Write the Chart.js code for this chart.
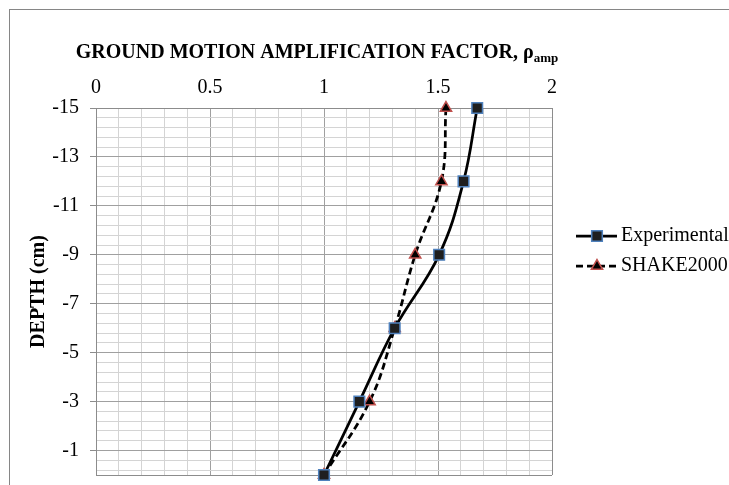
<!DOCTYPE html>
<html>
<head>
<meta charset="utf-8">
<script src="https://cdn.jsdelivr.net/npm/chart.js@4.4.1/dist/chart.umd.min.js"></script>
<style>
  body { margin: 0; background: #fff; }
  #wrap { width: 729px; height: 485px; position: relative; }
</style>
</head>
<body>
<div id="wrap"><canvas id="myChart"></canvas></div>
<script>
// depth (cm) and amplification factor
var depth = [0, -3, -6, -9, -12, -15];
var experimental = [1.0, 1.155, 1.31, 1.505, 1.612, 1.672];
var shake2000 = [1.0, 1.2, 1.31, 1.40, 1.515, 1.535];

var xTickLabels = [0, 0.5, 1, 1.5, 2];
var yTickLabels = [-15, -13, -11, -9, -7, -5, -3, -1];

var serif = "'Liberation Serif', 'Times New Roman', serif";

// minor grid every 0.1 on x, every 0.4 on y (from -15)
var xGrid = [];
for (var i = 0; i <= 20; i++) xGrid.push(i / 10);
var yGrid = [];
for (var j = 0; j <= 37; j++) yGrid.push(Math.round((-15 + j * 0.4) * 10) / 10);
yGrid.push(0);

function isMajorX(v) { return xTickLabels.some(function (t) { return Math.abs(t - v) < 1e-6; }); }
function isMajorY(v) { return yTickLabels.some(function (t) { return Math.abs(t - v) < 1e-6; }); }

function pts(xs) {
  return xs.map(function (x, k) { return { x: x, y: depth[k] }; });
}

var decor = {
  id: 'decor',
  afterDraw: function (chart) {
    var ctx = chart.ctx;
    ctx.save();
    // outer frame
    ctx.strokeStyle = '#868686';
    ctx.lineWidth = 1;
    ctx.strokeRect(9.5, 9.5, 900, 900);

    // title with subscript
    var main = 'GROUND MOTION AMPLIFICATION FACTOR, \u03c1';
    var sub = 'amp';
    ctx.fillStyle = '#000';
    ctx.textBaseline = 'alphabetic';
    ctx.font = 'bold 20px ' + serif;
    var w1 = ctx.measureText(main).width;
    ctx.font = 'bold 13px ' + serif;
    var w2 = ctx.measureText(sub).width;
    var x0 = 317 - (w1 + w2) / 2;
    ctx.font = 'bold 20px ' + serif;
    ctx.fillText(main, x0, 58);
    ctx.font = 'bold 13px ' + serif;
    ctx.fillText(sub, x0 + w1, 62);

    // legend
    var items = [
      { label: 'Experimental', ds: chart.data.datasets[0], y: 236 },
      { label: 'SHAKE2000', ds: chart.data.datasets[1], y: 266 }
    ];
    items.forEach(function (it) {
      ctx.strokeStyle = it.ds.borderColor;
      ctx.lineWidth = it.ds.borderWidth;
      ctx.setLineDash(it.ds.borderDash || []);
      ctx.beginPath();
      ctx.moveTo(576, it.y);
      ctx.lineTo(617, it.y);
      ctx.stroke();
      ctx.setLineDash([]);
      ctx.fillStyle = it.ds.pointBackgroundColor;
      ctx.strokeStyle = it.ds.pointBorderColor;
      ctx.lineWidth = it.ds.pointBorderWidth;
      Chart.helpers.drawPoint(ctx, {
        pointStyle: it.ds.pointStyle,
        radius: it.ds.pointRadius,
        borderWidth: it.ds.pointBorderWidth
      }, 597, it.y);
      ctx.fillStyle = '#000';
      ctx.font = '20px ' + serif;
      ctx.textBaseline = 'middle';
      ctx.fillText(it.label, 621, it.y);
    });
    ctx.restore();
  }
};

new Chart(document.getElementById('myChart'), {
  type: 'scatter',
  data: {
    datasets: [{
      label: 'Experimental',
      data: pts(experimental),
      showLine: true,
      borderColor: '#000',
      borderWidth: 2.75,
      tension: 0.4,
      pointStyle: 'rect',
      pointRadius: 7.5,
      pointHoverRadius: 7.5,
      pointBackgroundColor: '#1f1f1f',
      pointBorderColor: '#4f81bd',
      pointBorderWidth: 1.5,
      clip: false
    }, {
      label: 'SHAKE2000',
      data: pts(shake2000),
      showLine: true,
      borderColor: '#000',
      borderWidth: 2.75,
      borderDash: [7, 4],
      tension: 0.4,
      pointStyle: 'triangle',
      pointRadius: 6.5,
      pointHoverRadius: 6.5,
      pointBackgroundColor: '#000',
      pointBorderColor: '#c0504d',
      pointBorderWidth: 1.5,
      clip: false
    }]
  },
  options: {
    responsive: true,
    maintainAspectRatio: false,
    animation: false,
    layout: { padding: { left: 0, top: 0, right: 177, bottom: 10 } },
    plugins: {
      legend: { display: false },
      title: { display: false },
      tooltip: { enabled: false }
    },
    scales: {
      x: {
        type: 'linear',
        position: 'top',
        min: 0,
        max: 2,
        afterBuildTicks: function (axis) {
          axis.ticks = xGrid.map(function (v) { return { value: v }; });
        },
        afterFit: function (axis) { axis.height = 108; },
        ticks: {
          autoSkip: false,
          maxRotation: 0,
          padding: 8,
          color: '#000',
          font: { family: serif, size: 20 },
          callback: function (v) { return isMajorX(v) ? String(Math.round(v * 10) / 10) : ''; }
        },
        grid: {
          drawTicks: false,
          color: function (c) {
            var v = c.tick ? c.tick.value : 0;
            if (Math.abs(v - 2) < 1e-6) return '#8c8c8c';
            return isMajorX(v) ? '#a0a0a0' : '#d4d4d4';
          },
          lineWidth: 1
        },
        border: { color: '#8c8c8c' }
      },
      y: {
        type: 'linear',
        min: -15,
        max: 0,
        reverse: true,
        afterBuildTicks: function (axis) {
          axis.ticks = yGrid.map(function (v) { return { value: v }; });
        },
        afterFit: function (axis) {
          axis.width = 96;
          axis.paddingTop = 0;
          axis.paddingBottom = 0;
        },
        title: {
          display: true,
          text: 'DEPTH (cm)',
          color: '#000',
          font: { family: serif, size: 20, weight: 'bold', lineHeight: 1.2 },
          padding: { top: 27, bottom: 0 }
        },
        ticks: {
          autoSkip: false,
          padding: 11,
          color: '#000',
          font: { family: serif, size: 20 },
          callback: function (v) { return isMajorY(v) ? String(v) : ''; }
        },
        grid: {
          tickLength: 6,
          color: function (c) {
            var v = c.tick ? c.tick.value : 0;
            if (Math.abs(v) < 1e-6) return '#8c8c8c';
            return isMajorY(v) ? '#a0a0a0' : '#d4d4d4';
          },
          tickColor: function (c) {
            var v = c.tick ? c.tick.value : 0;
            return isMajorY(v) ? '#8c8c8c' : 'rgba(0,0,0,0)';
          },
          lineWidth: 1
        },
        border: { color: '#8c8c8c' }
      }
    }
  },
  plugins: [decor]
});
</script>
</body>
</html>
